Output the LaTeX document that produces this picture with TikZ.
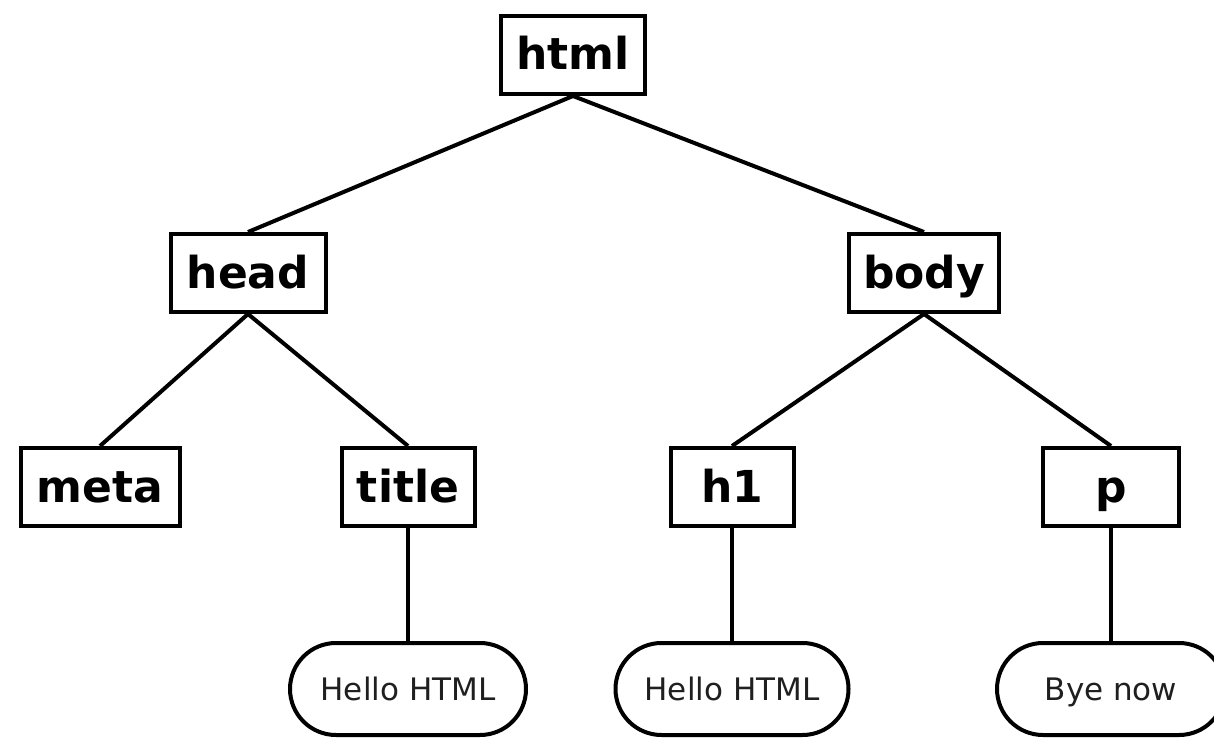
\documentclass[tikz,border=0pt]{standalone}
\usepackage{fontspec}
\setmainfont{DejaVu Sans}
\begin{document}
\begin{tikzpicture}[x=1pt,y=-1pt,
  tagbox/.style={draw=black, line width=4pt, fill=white, minimum height=78pt, inner sep=0pt,
     text height=33pt, text depth=3pt,
     font=\fontsize{44}{50}\selectfont\bfseries},
  leaf/.style={draw=black, line width=4pt, fill=white, rounded corners=46pt, minimum height=92pt, inner sep=0pt,
     text height=23pt, text depth=0pt,
     font=\fontsize{31}{36}\selectfont, text=black!88},
  edge/.style={line width=4pt}]
\useasboundingbox (0,0) rectangle (1214,738);
\node[tagbox, minimum width=144pt] (html) at (573,55) {html};
\node[tagbox, minimum width=155pt] (head) at (248,273) {head};
\node[tagbox, minimum width=150pt] (body) at (924,273) {body};
\node[tagbox, minimum width=159pt] (meta) at (100,487) {meta};
\node[tagbox, minimum width=133pt] (title) at (408,487) {title};
\node[tagbox, minimum width=123pt] (h1) at (732,487) {h1};
\node[tagbox, minimum width=136pt] (p) at (1111,487) {p};
\node[leaf, minimum width=236pt] (t1) at (408,689) {Hello HTML};
\node[leaf, minimum width=233pt] (t2) at (732,689) {Hello HTML};
\node[leaf, minimum width=228pt] (t3) at (1111,689) {Bye now};
\draw[edge] (html.south) -- (head.north);
\draw[edge] (html.south) -- (body.north);
\draw[edge] (head.south) -- (meta.north);
\draw[edge] (head.south) -- (title.north);
\draw[edge] (body.south) -- (h1.north);
\draw[edge] (body.south) -- (p.north);
\draw[edge] (title.south) -- (t1.north);
\draw[edge] (h1.south) -- (t2.north);
\draw[edge] (p.south) -- (t3.north);
\end{tikzpicture}
\end{document}
